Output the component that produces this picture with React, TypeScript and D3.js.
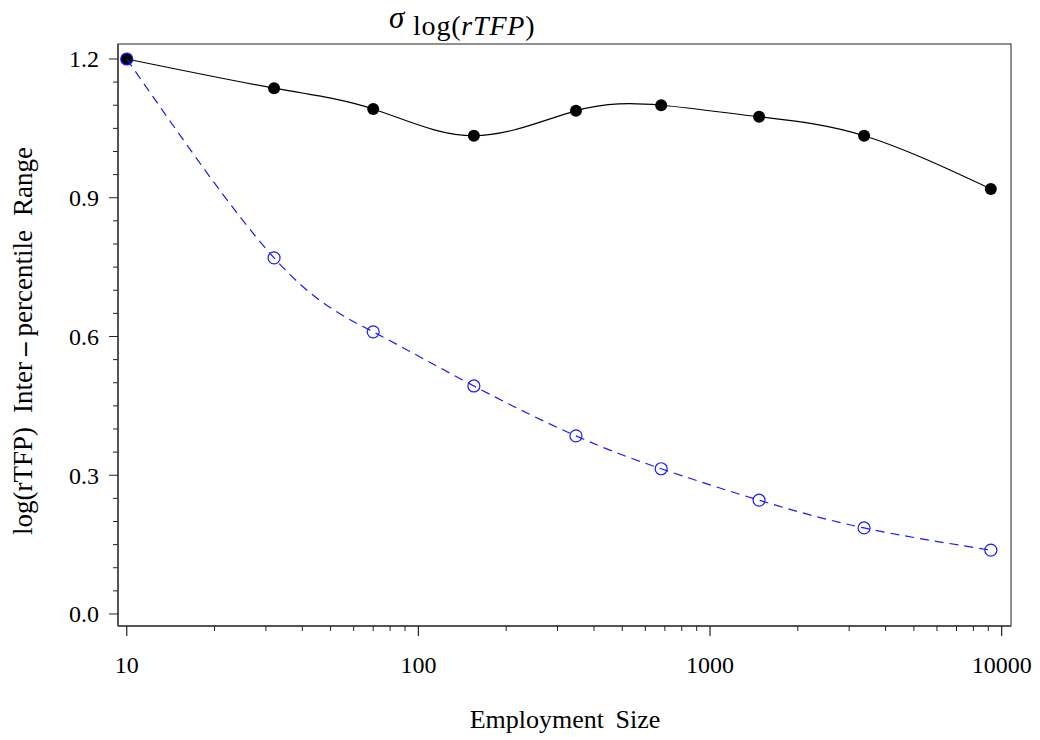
import React from "react";
import * as d3 from "d3";

const employment = [10, 32, 70, 155, 347, 680, 1473, 3375, 9180];
const allFirms = [1.2, 1.137, 1.092, 1.034, 1.088, 1.1, 1.075, 1.034, 0.919];
const sizeBins = [1.2, 0.77, 0.61, 0.493, 0.385, 0.314, 0.246, 0.186, 0.138];
const xTickValues = [10, 100, 1000, 10000];
const yTickValues = [0, 0.3, 0.6, 0.9, 1.2];

const W = 1040;
const H = 740;
const left = 118;
const right = 1011;
const top = 44;
const bottom = 626;

const FONT = '"Liberation Serif", "DejaVu Serif", serif';

export default function App() {
  const x = d3.scaleLog().domain([10 ** 0.97, 10 ** 4.032]).range([left, right]);
  const y = d3.scaleLinear().domain([-0.026, 1.2 + (59 - top) / 462.5]).range([bottom, top]);

  const minorX: number[] = [];
  for (let d = 10; d < 10000; d *= 10) {
    for (let k = 2; k <= 9; k++) minorX.push(d * k);
  }
  const minorY: number[] = [];
  for (let i = 0; i <= 24; i++) {
    const v = Math.round(i * 5) / 100;
    if (Math.round(v * 100) % 30 !== 0) minorY.push(v);
  }

  const line = d3
    .line<number>()
    .x((_, i) => x(employment[i]))
    .y((d) => y(d))
    .curve(d3.curveNatural);

  return (
    <svg
      width={W}
      height={H}
      style={{ position: "absolute", left: 0, top: 0, background: "#fff", fontFamily: FONT }}
    >
      {/* frame */}
      <rect x={left} y={top} width={right - left} height={bottom - top} fill="none" stroke="#222" strokeWidth={1} />
      <line x1={left} x2={left} y1={top} y2={bottom} stroke="#555" strokeWidth={2} />
      <line x1={left} x2={right} y1={bottom} y2={bottom} stroke="#555" strokeWidth={2} />

      {/* y ticks */}
      {yTickValues.map((v) => (
        <g key={"yt" + v}>
          <line x1={left - 9} x2={left} y1={y(v)} y2={y(v)} stroke="#222" strokeWidth={1} />
          <text x={left - 19} y={y(v)} dy="0.35em" textAnchor="end" fontSize={24} fill="#000">
            {v.toFixed(1)}
          </text>
        </g>
      ))}
      {minorY.map((v) => (
        <line key={"ym" + v} x1={left - 5} x2={left} y1={y(v)} y2={y(v)} stroke="#222" strokeWidth={1} />
      ))}

      {/* x ticks */}
      {xTickValues.map((v) => (
        <g key={"xt" + v}>
          <line x1={x(v)} x2={x(v)} y1={bottom} y2={bottom + 10} stroke="#222" strokeWidth={1.2} />
          <text x={x(v)} y={673} textAnchor="middle" fontSize={24} fill="#000">
            {v}
          </text>
        </g>
      ))}
      {minorX.map((v) => (
        <line key={"xm" + v} x1={x(v)} x2={x(v)} y1={bottom} y2={bottom + 5} stroke="#222" strokeWidth={1} />
      ))}

      {/* series lines */}
      <path d={line(allFirms) || ""} fill="none" stroke="#000" strokeWidth={1.2} />
      {allFirms.map((v, i) => (
        <circle key={"a" + i} cx={x(employment[i])} cy={y(v)} r={6} fill="#000" />
      ))}
      <path d={line(sizeBins) || ""} fill="none" stroke="#1a1aff" strokeWidth={1.2} strokeDasharray="9,6" />
      {sizeBins.map((v, i) => (
        <circle key={"b" + i} cx={x(employment[i])} cy={y(v)} r={6} fill="none" stroke="#1a1aff" strokeWidth={1.2} />
      ))}

      {/* title */}
      <text x={389} y={28} fontSize={31} fill="#000">
        <tspan fontStyle="italic">σ</tspan>
      </text>
      <text x={413} y={35} fontSize={28} letterSpacing={0.8} fill="#000">
        log(<tspan fontStyle="italic">rTFP</tspan>)
      </text>

      {/* axis titles */}
      <text x={565} y={728} textAnchor="middle" fontSize={26} wordSpacing={5} fill="#000">
        Employment Size
      </text>
      <text
        transform={`translate(32, 341) rotate(-90)`}
        textAnchor="middle"
        fontSize={27}
        fill="#000"
      >
        <tspan>log(rTFP)</tspan>
        <tspan dx={14}>Inter</tspan>
        <tspan dx={6} fontWeight="bold">–</tspan>
        <tspan dx={6}>percentile</tspan>
        <tspan dx={14}>Range</tspan>
      </text>
    </svg>
  );
}
